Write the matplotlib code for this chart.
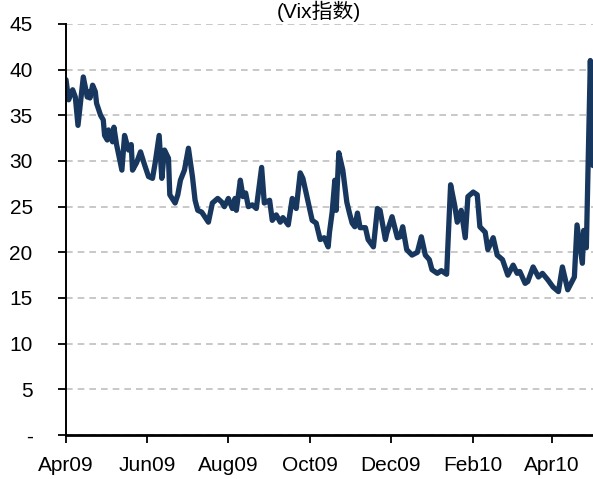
import matplotlib
matplotlib.use("Agg")
import matplotlib.pyplot as plt
import matplotlib.dates as mdates
import pandas as pd

dates = [
    "2009-04-01", "2009-04-03", "2009-04-06", "2009-04-08", "2009-04-10", "2009-04-14",
    "2009-04-17", "2009-04-18", "2009-04-19", "2009-04-21", "2009-04-23", "2009-04-24",
    "2009-04-27", "2009-04-29", "2009-04-30", "2009-05-02", "2009-05-03", "2009-05-06",
    "2009-05-07", "2009-05-09", "2009-05-13", "2009-05-15", "2009-05-18", "2009-05-20",
    "2009-05-21", "2009-05-24", "2009-05-27", "2009-05-30", "2009-06-02", "2009-06-05",
    "2009-06-07", "2009-06-10", "2009-06-12", "2009-06-14", "2009-06-17", "2009-06-18",
    "2009-06-22", "2009-06-24", "2009-06-26", "2009-06-29", "2009-07-02", "2009-07-05",
    "2009-07-07", "2009-07-09", "2009-07-12", "2009-07-17", "2009-07-20", "2009-07-24",
    "2009-07-27", "2009-07-29", "2009-08-01", "2009-08-04", "2009-08-06", "2009-08-07",
    "2009-08-10", "2009-08-12", "2009-08-14", "2009-08-16", "2009-08-19", "2009-08-22",
    "2009-08-26", "2009-08-28", "2009-09-01", "2009-09-03", "2009-09-06", "2009-09-09",
    "2009-09-11", "2009-09-15", "2009-09-18", "2009-09-21", "2009-09-24", "2009-09-26",
    "2009-09-30", "2009-10-03", "2009-10-06", "2009-10-09", "2009-10-12", "2009-10-15",
    "2009-10-16", "2009-10-18", "2009-10-20", "2009-10-21", "2009-10-23", "2009-10-26",
    "2009-10-29", "2009-10-31", "2009-11-02", "2009-11-04", "2009-11-06", "2009-11-08",
    "2009-11-12", "2009-11-14", "2009-11-18", "2009-11-21", "2009-11-23", "2009-11-27",
    "2009-11-28", "2009-12-02", "2009-12-06", "2009-12-08", "2009-12-10", "2009-12-13",
    "2009-12-17", "2009-12-21", "2009-12-24", "2009-12-27", "2009-12-30", "2010-01-01",
    "2010-01-05", "2010-01-08", "2010-01-12", "2010-01-15", "2010-01-18", "2010-01-20",
    "2010-01-23", "2010-01-26", "2010-01-28", "2010-02-01", "2010-02-04", "2010-02-06",
    "2010-02-10", "2010-02-12", "2010-02-16", "2010-02-19", "2010-02-23", "2010-02-27",
    "2010-03-03", "2010-03-06", "2010-03-08", "2010-03-12", "2010-03-14", "2010-03-18",
    "2010-03-22", "2010-03-25", "2010-03-29", "2010-04-02", "2010-04-06", "2010-04-09",
    "2010-04-13", "2010-04-18", "2010-04-20", "2010-04-24", "2010-04-25", "2010-04-27",
    "2010-04-30", "2010-05-02",
]
vix = [
    38.9, 36.7, 37.8, 37.0, 33.9, 39.2,
    37.0, 37.6, 36.9, 38.3, 37.6, 36.3,
    35.0, 34.5, 32.8, 32.3, 33.4, 32.1,
    33.7, 31.8, 29.0, 32.8, 31.2, 31.8,
    29.0, 29.8, 31.0, 29.6, 28.3, 28.1,
    29.8, 32.8, 28.1, 31.2, 30.3, 26.3,
    25.4, 26.3, 27.9, 29.0, 31.4, 28.3,
    25.7, 24.6, 24.4, 23.3, 25.4, 25.9,
    25.5, 25.0, 25.9, 24.8, 25.9, 24.6,
    27.9, 26.1, 26.5, 25.0, 25.2, 24.8,
    29.3, 25.4, 25.7, 23.5, 24.1, 23.3,
    23.8, 23.0, 25.9, 24.8, 28.7, 28.1,
    25.5, 23.5, 23.2, 21.4, 21.6, 20.6,
    22.2, 24.4, 27.9, 24.6, 30.9, 29.0,
    25.5, 24.3, 23.2, 22.8, 24.3, 22.7,
    22.7, 21.4, 20.6, 24.8, 24.6, 21.4,
    22.1, 23.9, 21.6, 21.7, 22.8, 20.3,
    19.7, 20.0, 21.7, 19.7, 19.2, 18.1,
    17.7, 18.0, 17.6, 27.4, 25.2, 23.3,
    24.6, 21.6, 26.1, 26.6, 26.3, 22.8,
    22.2, 20.3, 21.6, 19.7, 19.2, 17.5,
    18.6, 17.7, 17.9, 16.6, 16.8, 18.4,
    17.3, 17.7, 17.0, 16.2, 15.7, 18.4,
    15.9, 17.3, 23.0, 18.8, 22.4, 20.5,
    41.0, 29.5,
]
y_ticks = [0, 5, 10, 15, 20, 25, 30, 35, 40, 45]
y_labels = ["-", "5", "10", "15", "20", "25", "30", "35", "40", "45"]

plt.rcParams["font.family"] = ["Liberation Sans", "Noto Sans CJK SC"]

fig = plt.figure(figsize=(5.93, 4.79), dpi=100)
ax = fig.add_axes([66 / 593, 1 - 435 / 479, (593 - 66) / 593, (435 - 24) / 479])

ax.plot(pd.to_datetime(dates), vix, color="#17375E", linewidth=3.8,
        solid_joinstyle="round", solid_capstyle="round")

ax.set_ylim(0, 45)
ax.set_yticks(y_ticks)
ax.set_yticklabels(y_labels)
ax.set_xlim(pd.Timestamp("2009-04-01"), pd.Timestamp("2010-05-02"))
ax.xaxis.set_major_locator(mdates.MonthLocator(bymonth=[2, 4, 6, 8, 10, 12]))
ax.xaxis.set_major_formatter(mdates.DateFormatter("%b%y"))

ax.yaxis.grid(True, color="#BFBFBF", linestyle=(0, (4, 3)), linewidth=1.2)
ax.set_axisbelow(True)

for side in ["top", "right"]:
    ax.spines[side].set_visible(False)
ax.spines["left"].set_linewidth(1.4)
ax.spines["bottom"].set_linewidth(2.0)

ax.tick_params(axis="y", direction="out", length=6, width=1.3, labelsize=15, pad=18)
ax.tick_params(axis="x", direction="out", length=6, width=1.3, labelsize=15, pad=9)

fig.text(319 / 593, 1 - 11 / 479, "(Vix指数)", ha="center", va="center", fontsize=15)

fig.savefig("out.png", dpi=100)
